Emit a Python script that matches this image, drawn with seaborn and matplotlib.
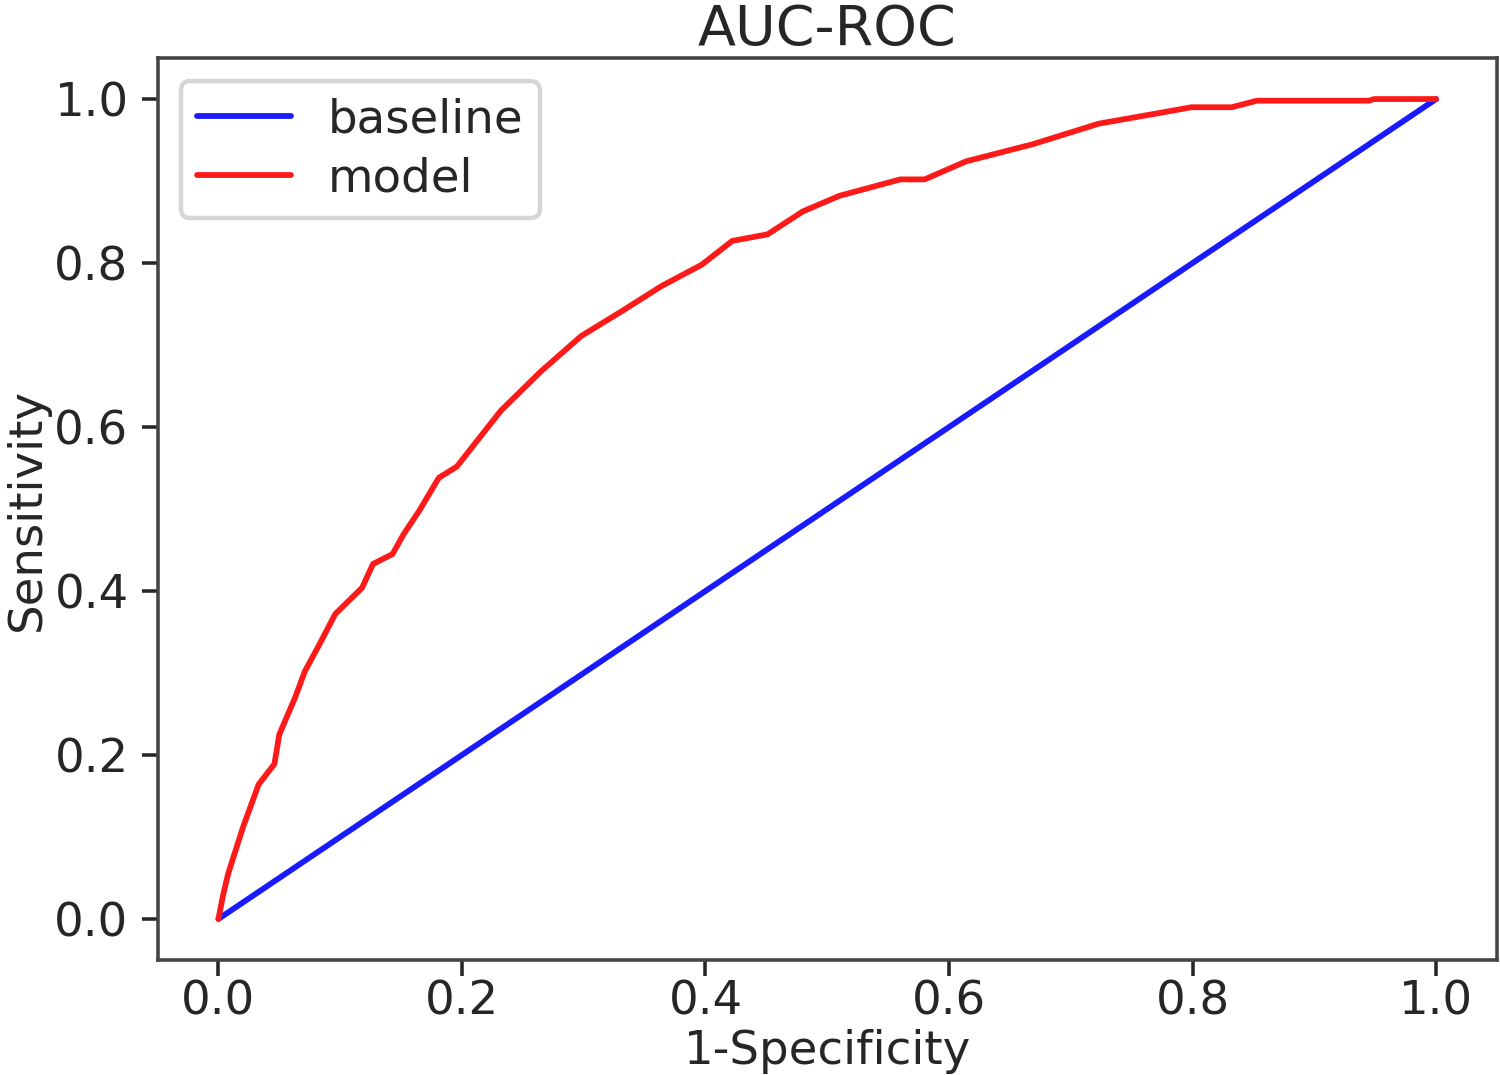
import seaborn as sns
import matplotlib
matplotlib.use('Agg')
import matplotlib.pyplot as plt

# roc points
fpr = [0.0, 0.004, 0.008, 0.020, 0.033, 0.046, 0.050, 0.063, 0.071, 0.083,
       0.096, 0.118, 0.127, 0.143, 0.152, 0.165, 0.181, 0.196, 0.206, 0.232,
       0.265, 0.298, 0.331, 0.364, 0.397, 0.422, 0.451, 0.480, 0.510, 0.560,
       0.580, 0.614, 0.669, 0.723, 0.769, 0.799, 0.832, 0.853, 0.945, 0.949, 1.0]
tpr = [0.0, 0.030, 0.055, 0.111, 0.164, 0.189, 0.225, 0.270, 0.302, 0.335,
       0.372, 0.404, 0.433, 0.445, 0.469, 0.498, 0.538, 0.552, 0.571, 0.620,
       0.668, 0.711, 0.741, 0.772, 0.798, 0.827, 0.835, 0.863, 0.882, 0.902,
       0.902, 0.924, 0.945, 0.970, 0.982, 0.990, 0.990, 0.998, 0.998, 1.0, 1.0]

base_x = [0.0, 1.0]
base_y = [0.0, 1.0]

sns.set_style('ticks')
plt.rcParams['font.family'] = ['DejaVu Sans']

fig = plt.figure(figsize=(1500 / 320, 1075 / 320), dpi=320)
ax = fig.add_axes([0.105, 0.107, 0.893, 0.839])

sns.lineplot(x=base_x, y=base_y, color='#1a1aff', label='baseline', ax=ax,
             sort=False, estimator=None, linewidth=1.3)
sns.lineplot(x=fpr, y=tpr, color='#ff1a1a', label='model', ax=ax,
             sort=False, estimator=None, linewidth=1.3)

ax.set_xlim(-0.05, 1.05)
ax.set_ylim(-0.05, 1.05)
ax.set_xticks([0.0, 0.2, 0.4, 0.6, 0.8, 1.0])
ax.set_yticks([0.0, 0.2, 0.4, 0.6, 0.8, 1.0])
ax.set_title('AUC-ROC', fontsize=12.5, pad=3)
ax.set_xlabel('1-Specificity', fontsize=10.5)
ax.xaxis.set_label_coords(0.5, -0.077)
ax.set_ylabel('Sensitivity', fontsize=10.5, labelpad=1)
ax.tick_params(axis='x', labelsize=10.5, pad=0.8)
ax.tick_params(axis='y', labelsize=10.5, pad=3)
for s in ax.spines.values():
    s.set_visible(True)
    s.set_linewidth(0.8)
    s.set_color('#444444')
ax.legend(loc='upper left', fontsize=10.5, frameon=True, labelspacing=0.3,
          borderpad=0.35)

fig.savefig('out.png', dpi=320)
